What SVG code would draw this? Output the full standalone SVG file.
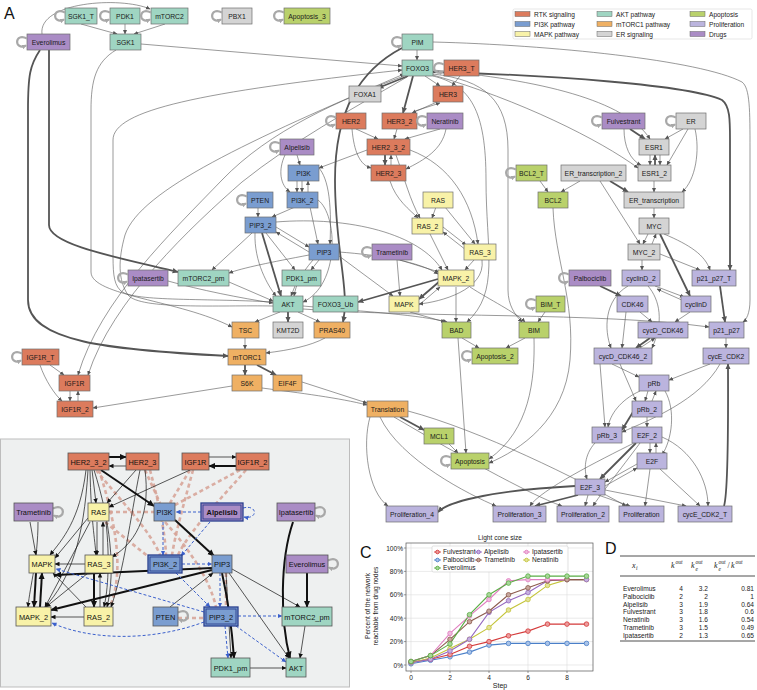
<svg xmlns="http://www.w3.org/2000/svg" xmlns:xlink="http://www.w3.org/1999/xlink" width="757" height="690" viewBox="0 0 757 690">
<style>
.n rect{stroke:#6e6e6e;stroke-width:0.7}
.n text{font-family:"Liberation Sans",Arial,sans-serif;font-size:6.8px;text-anchor:middle;fill:#1a1a1a}
.rtk rect{fill:#dc7b5d}.pi3k rect{fill:#7a9dd0}.mapk rect{fill:#f8f2a8}.akt rect{fill:#9fd5c2}
.mtor rect{fill:#efb063}.er rect{fill:#d4d4d4}.apo rect{fill:#b9d16b}.pro rect{fill:#bbb4de}.drug rect{fill:#aa8cc5}
.e{fill:none;stroke:#555;stroke-width:0.6;marker-end:url(#ah)}
.t{fill:none;stroke:#555;stroke-width:1.8;marker-end:url(#ah2)}
.lp{fill:none;stroke:#a8a8a8;stroke-width:2.2;marker-end:url(#al)}
.lbl{font-family:"Liberation Sans",Arial,sans-serif;fill:#111}
.b rect{stroke:#555;stroke-width:0.8}
.b text{font-family:"Liberation Sans",Arial,sans-serif;font-size:7.4px;text-anchor:middle;fill:#111}
.k{fill:none;stroke:#111;stroke-width:0.7;marker-end:url(#bk)}
.kt{fill:none;stroke:#111;stroke-width:2;marker-end:url(#bk2)}
.pk{fill:none;stroke:#d6a194;stroke-width:2.6;stroke-dasharray:4 3;opacity:0.85}
.bl{fill:none;stroke:#3b60cc;stroke-width:1;stroke-dasharray:3 2;marker-end:url(#bl)}
.tx{font-family:"Liberation Sans",Arial,sans-serif;font-size:6.6px;fill:#222}
.grid{stroke:#dcdcdc;stroke-width:0.6}
</style>
<defs>
<marker id="ah" viewBox="0 0 10 10" refX="9" refY="5" markerWidth="4.5" markerHeight="4.5" markerUnits="userSpaceOnUse" orient="auto"><path d="M0,0.5 L10,5 L0,9.5z" fill="#555"/></marker>
<marker id="ah2" viewBox="0 0 10 10" refX="9" refY="5" markerWidth="6" markerHeight="6" markerUnits="userSpaceOnUse" orient="auto"><path d="M0,0.5 L10,5 L0,9.5z" fill="#555"/></marker>
<marker id="al" viewBox="0 0 10 10" refX="8" refY="5" markerWidth="5" markerHeight="5" markerUnits="userSpaceOnUse" orient="auto"><path d="M0,0.5 L10,5 L0,9.5z" fill="#a8a8a8"/></marker>
<marker id="bk" viewBox="0 0 10 10" refX="9" refY="5" markerWidth="5" markerHeight="5" markerUnits="userSpaceOnUse" orient="auto"><path d="M0,0.5 L10,5 L0,9.5z" fill="#111"/></marker>
<marker id="bk2" viewBox="0 0 10 10" refX="9" refY="5" markerWidth="7" markerHeight="7" markerUnits="userSpaceOnUse" orient="auto"><path d="M0,0.5 L10,5 L0,9.5z" fill="#111"/></marker>
<marker id="bl" viewBox="0 0 10 10" refX="9" refY="5" markerWidth="5" markerHeight="5" markerUnits="userSpaceOnUse" orient="auto"><path d="M0,0.5 L10,5 L0,9.5z" fill="#3b60cc"/></marker>
<path id="lp" class="lp" d="M0,-3.5 C-13,-10 -13,9 -1,3.5"/>
<path id="lpb" fill="none" stroke="#a8a8a8" stroke-width="2.2" marker-end="url(#al)" d="M0,-3.5 C13,-10 13,9 1,3.5"/>
</defs>
<rect width="757" height="690" fill="#fff"/>
<text class="lbl" x="4" y="19" font-size="16">A</text>
<text class="lbl" x="4" y="459" font-size="16">B</text>
<text class="lbl" x="360" y="558" font-size="16">C</text>
<text class="lbl" x="605" y="554" font-size="16">D</text>

<!-- legend -->
<g id="legend">
<rect x="513" y="9" width="239" height="30" fill="#fff" stroke="#dcdcdc" stroke-width="0.7" rx="1.5"/>
<g stroke="#666" stroke-width="0.5">
<rect x="515" y="11.5" width="15" height="5" fill="#dc7b5d"/><rect x="515" y="21.5" width="15" height="5" fill="#7a9dd0"/><rect x="515" y="31.5" width="15" height="5" fill="#f8f2a8"/>
<rect x="597" y="11.5" width="15" height="5" fill="#9fd5c2"/><rect x="597" y="21.5" width="15" height="5" fill="#efb063"/><rect x="597" y="31.5" width="15" height="5" fill="#d4d4d4"/>
<rect x="690" y="11.5" width="15" height="5" fill="#b9d16b"/><rect x="690" y="21.5" width="15" height="5" fill="#bbb4de"/><rect x="690" y="31.5" width="15" height="5" fill="#aa8cc5"/>
</g>
<g class="tx" font-size="7">
<text x="534" y="16.5">RTK signaling</text><text x="534" y="26.5">PI3K pathway</text><text x="534" y="36.5">MAPK pathway</text>
<text x="616" y="16.5">AKT pathway</text><text x="616" y="26.5">mTORC1 pathway</text><text x="616" y="36.5">ER signaling</text>
<text x="709" y="16.5">Apoptosis</text><text x="709" y="26.5">Proliferation</text><text x="709" y="36.5">Drugs</text>
</g>
</g>

<!-- Panel A connectors -->
<g id="edges-A">
<path class="e" d="M81,24 L117,34"/>
<path class="e" d="M125,24 L125,34"/>
<path class="e" d="M165,24 L134,34"/>
<path class="e" d="M42,34 C38,2 120,-4 150,9"/>
<path class="e" d="M141,44 L402,66"/>
<path class="e" d="M116,50 C96,62 91,80 91,110 L91,272 C91,296 180,300 232,327"/>
<path class="t" d="M49,50 L49,225 C49,245 120,258 178,272"/>
<path class="t" d="M40,50 C30,65 28,75 28,110 L28,300 C28,342 110,350 228,356"/>
<path class="e" d="M273,302 C200,298 130,302 120,290 C113,283 113,270 113,250 L113,140 C113,110 200,92 402,70"/>
<path class="e" d="M273,306 C220,305 140,310 128,295 C118,280 118,260 125,235 C140,190 250,140 404,74"/>
<path class="e" d="M404,76 C340,100 270,130 222,180 C172,232 100,300 78,375"/>
<path class="e" d="M407,77 C350,110 292,142 242,182 C192,226 112,300 88,375"/>
<path class="e" d="M417,50 L417,60"/>
<path class="e" d="M433,42 C550,45 700,60 742,82 C750,88 750,110 750,150 L750,300 C750,314 746,320 743,322"/>
<path class="t" d="M433,72 C550,75 690,85 722,100 C730,106 730,120 730,140 L730,270"/>
<path class="t" d="M402,48 C360,70 335,110 335,180 C335,250 350,290 343,322"/>
<path class="t" d="M408,76 L378,88"/>
<path class="e" d="M425,76 L440,86"/>
<path class="t" d="M413,76 L403,113"/>
<path class="e" d="M460,76 L452,86"/>
<path class="e" d="M437,102 L412,113"/>
<path class="e" d="M415,111 L440,103"/>
<path class="e" d="M397,129 L394,139"/>
<path class="e" d="M356,129 L378,139"/>
<path class="e" d="M440,129 L405,139"/>
<path class="e" d="M352,129 C354,152 360,165 371,168"/>
<path class="e" d="M446,129 C442,150 424,160 406,169"/>
<path class="t" d="M385,155 L385,165"/>
<path class="e" d="M391,165 L391,155"/>
<path class="e" d="M367,150 L319,168"/>
<path class="e" d="M396,155 C405,180 410,200 420,218"/>
<path class="e" d="M390,181 C396,200 410,210 418,218"/>
<path class="e" d="M410,150 C450,165 472,200 478,244"/>
<path class="e" d="M433,76 C470,85 486,110 486,180 C486,250 500,292 467,322"/>
<path class="e" d="M433,74 C485,80 508,100 508,150 L508,290 C508,305 515,315 522,322"/>
<path class="e" d="M297,155 L300,165"/>
<path class="e" d="M285,155 C278,170 280,185 290,192"/>
<path class="e" d="M297,181 L297,192"/>
<path class="e" d="M302,181 L302,192"/>
<path class="e" d="M308,192 L308,181"/>
<path class="e" d="M258,207 L258,217"/>
<path class="e" d="M295,207 L272,217"/>
<path class="e" d="M310,207 L318,244"/>
<path class="e" d="M316,165 C328,175 332,200 330,244"/>
<path class="e" d="M276,227 L309,247"/>
<path class="e" d="M309,252 L276,232"/>
<path class="e" d="M266,233 L295,270"/>
<path class="t" d="M262,233 L281,296"/>
<path class="e" d="M255,233 C254,262 268,286 276,296"/>
<path class="e" d="M252,233 L212,270"/>
<path class="e" d="M319,260 L311,270"/>
<path class="e" d="M313,260 C300,275 296,285 294,296"/>
<path class="e" d="M309,255 C272,262 242,268 229,273"/>
<path class="e" d="M295,286 L291,296"/>
<path class="e" d="M229,282 L273,301"/>
<path class="e" d="M339,252 C380,255 420,262 438,274"/>
<path class="e" d="M276,222 C350,216 420,234 442,270"/>
<path class="e" d="M339,256 L393,296"/>
<path class="e" d="M318,200 C338,215 340,285 303,302"/>
<path class="t" d="M288,312 L288,322"/>
<path class="e" d="M280,312 L255,322"/>
<path class="e" d="M298,312 L320,322"/>
<path class="e" d="M303,306 C370,312 420,315 447,322"/>
<path class="e" d="M303,309 C420,318 600,312 709,327"/>
<path class="e" d="M168,281 C200,290 240,298 273,303"/>
<path class="t" d="M438,279 L358,302"/>
<path class="e" d="M245,338 L245,349"/>
<path class="e" d="M325,338 C310,346 290,350 266,353"/>
<path class="t" d="M245,365 L245,375"/>
<path class="t" d="M257,365 L276,375"/>
<path class="e" d="M232,386 L93,408"/>
<path class="e" d="M262,388 C300,393 340,398 367,405"/>
<path class="e" d="M302,382 L367,403"/>
<path class="e" d="M50,365 L64,375"/>
<path class="e" d="M40,365 C45,380 55,395 62,401"/>
<path class="e" d="M70,391 L70,401"/>
<path class="e" d="M78,401 L78,391"/>
<path class="t" d="M400,417 L424,430"/>
<path class="e" d="M449,444 L458,453"/>
<path class="e" d="M370,417 C362,445 368,492 388,506"/>
<path class="e" d="M380,417 C400,460 470,495 496,506"/>
<path class="e" d="M394,417 C450,450 530,495 562,506"/>
<path class="e" d="M408,411 C480,430 580,480 626,506"/>
<path class="e" d="M462,338 L479,348"/>
<path class="e" d="M525,338 L506,348"/>
<path class="e" d="M458,338 L466,453"/>
<path class="e" d="M534,338 C535,380 530,430 489,459"/>
<path class="e" d="M553,208 C555,260 575,300 570,360 C565,420 520,450 489,463"/>
<path class="e" d="M540,181 L548,192"/>
<path class="e" d="M545,312 L538,322"/>
<path class="e" d="M456,287 L456,322"/>
<path class="e" d="M470,287 C490,300 515,312 525,322"/>
<path class="e" d="M410,312 L445,322"/>
<path class="t" d="M440,281 L419,299"/>
<path class="e" d="M419,305 L440,287"/>
<path class="e" d="M400,260 L439,272"/>
<path class="e" d="M397,260 L400,296"/>
<path class="e" d="M474,260 L465,270"/>
<path class="e" d="M482,260 C486,290 440,302 419,304"/>
<path class="e" d="M436,207 L432,218"/>
<path class="e" d="M445,207 L475,244"/>
<path class="e" d="M443,227 L466,245"/>
<path class="e" d="M466,250 L443,232"/>
<path class="e" d="M430,234 L448,270"/>
<path class="t" d="M630,129 L645,139"/>
<path class="e" d="M624,129 C624,146 630,160 641,165"/>
<path class="e" d="M683,129 L665,139"/>
<path class="e" d="M688,129 L667,165"/>
<path class="e" d="M695,129 C700,150 696,180 682,192"/>
<path class="e" d="M433,70 C540,80 625,100 650,139"/>
<path class="e" d="M433,75 C520,100 600,140 638,168"/>
<path class="e" d="M650,155 L650,165"/>
<path class="t" d="M655,165 L655,155"/>
<path class="e" d="M660,155 L660,165"/>
<path class="e" d="M654,181 L654,192"/>
<path class="t" d="M610,181 L628,192"/>
<path class="e" d="M580,181 L561,192"/>
<path class="e" d="M600,181 L640,244"/>
<path class="e" d="M654,207 L654,218"/>
<path class="e" d="M648,234 L643,244"/>
<path class="e" d="M652,244 L656,234"/>
<path class="e" d="M664,234 C690,245 705,255 710,270"/>
<path class="e" d="M660,254 L700,270"/>
<path class="t" d="M660,234 L690,296"/>
<path class="e" d="M642,260 L642,270"/>
<path class="t" d="M600,286 L621,296"/>
<path class="e" d="M655,286 L684,297"/>
<path class="e" d="M684,301 L657,289"/>
<path class="e" d="M640,312 L652,322"/>
<path class="e" d="M690,312 L675,322"/>
<path class="e" d="M628,286 C604,300 604,330 611,348"/>
<path class="e" d="M648,286 C660,300 664,322 652,348"/>
<path class="e" d="M626,312 L622,348"/>
<path class="t" d="M650,338 L636,348"/>
<path class="e" d="M640,348 L655,338"/>
<path class="t" d="M720,286 L725,322"/>
<path class="e" d="M726,338 L726,348"/>
<path class="e" d="M710,364 L669,380"/>
<path class="e" d="M720,364 C700,400 650,420 622,432"/>
<path class="e" d="M612,364 L639,377"/>
<path class="e" d="M620,364 L636,401"/>
<path class="e" d="M600,364 L605,427"/>
<path class="e" d="M648,391 L645,401"/>
<path class="e" d="M652,401 L656,391"/>
<path class="e" d="M640,391 C620,400 610,415 608,427"/>
<path class="e" d="M647,417 L647,427"/>
<path class="t" d="M633,412 L622,430"/>
<path class="e" d="M665,391 C676,410 672,440 662,455"/>
<path class="e" d="M650,443 L650,453"/>
<path class="e" d="M656,453 L656,443"/>
<path class="t" d="M636,443 L600,479"/>
<path class="e" d="M637,464 L605,482"/>
<path class="e" d="M605,486 L637,468"/>
<path class="t" d="M575,486 C500,490 450,500 438,512"/>
<path class="t" d="M578,495 L535,506"/>
<path class="e" d="M588,495 L585,506"/>
<path class="e" d="M598,495 L630,506"/>
<path class="e" d="M605,490 L686,506"/>
<path class="e" d="M634,443 C600,460 540,490 530,506"/>
<path class="e" d="M640,443 C620,470 600,495 593,506"/>
<path class="e" d="M650,469 L645,506"/>
<path class="e" d="M660,469 L700,506"/>
<path class="e" d="M662,437 C692,450 708,480 708,506"/>
<path class="t" d="M724,506 C729,490 728,400 728,364"/>
<path class="e" d="M595,443 C584,455 584,470 587,479"/>
</g>

<!-- Panel A nodes -->
<g id="A-SGK1_T" class="n akt"><rect x="65" y="8" width="32" height="16"/><text x="81" y="18.5">SGK1_T</text></g>
<g id="A-PDK1" class="n akt"><rect x="110" y="8" width="30" height="16"/><text x="125" y="18.5">PDK1</text></g>
<g id="A-mTORC2" class="n akt"><rect x="151" y="8" width="37" height="16"/><text x="169.5" y="18.5">mTORC2</text></g>
<g id="A-PBX1" class="n er"><rect x="222" y="8" width="30" height="16"/><text x="237" y="18.5">PBX1</text></g>
<g id="A-Apoptosis_3" class="n apo"><rect x="284" y="8" width="46" height="16"/><text x="307" y="18.5">Apoptosis_3</text></g>
<g id="A-Everolimus" class="n drug"><rect x="27" y="34" width="43" height="16"/><text x="48.5" y="44.5">Everolimus</text></g>
<g id="A-SGK1" class="n akt"><rect x="110" y="34" width="31" height="16"/><text x="125.5" y="44.5">SGK1</text></g>
<g id="A-PIM" class="n akt"><rect x="402" y="34" width="31" height="16"/><text x="417.5" y="44.5">PIM</text></g>
<g id="A-FOXO3" class="n akt"><rect x="402" y="60" width="31" height="16"/><text x="417.5" y="70.5">FOXO3</text></g>
<g id="A-HER3_T" class="n rtk"><rect x="444" y="60" width="35" height="16"/><text x="461.5" y="70.5">HER3_T</text></g>
<g id="A-FOXA1" class="n er"><rect x="349" y="86" width="32" height="16"/><text x="365" y="96.5">FOXA1</text></g>
<g id="A-HER3" class="n rtk"><rect x="433" y="86" width="30" height="16"/><text x="448" y="96.5">HER3</text></g>
<g id="A-HER2" class="n rtk"><rect x="336" y="113" width="30" height="16"/><text x="351" y="123.5">HER2</text></g>
<g id="A-HER3_2" class="n rtk"><rect x="382" y="113" width="35" height="16"/><text x="399.5" y="123.5">HER3_2</text></g>
<g id="A-Neratinib" class="n drug"><rect x="427" y="113" width="36" height="16"/><text x="445" y="123.5">Neratinib</text></g>
<g id="A-Fulvestrant" class="n drug"><rect x="602" y="113" width="43" height="16"/><text x="623.5" y="123.5">Fulvestrant</text></g>
<g id="A-ER" class="n er"><rect x="676" y="113" width="30" height="16"/><text x="691" y="123.5">ER</text></g>
<g id="A-Alpelisib" class="n drug"><rect x="280" y="139" width="34" height="16"/><text x="297" y="149.5">Alpelisib</text></g>
<g id="A-HER2_3_2" class="n rtk"><rect x="367" y="139" width="43" height="16"/><text x="388.5" y="149.5">HER2_3_2</text></g>
<g id="A-ESR1" class="n er"><rect x="639" y="139" width="30" height="16"/><text x="654" y="149.5">ESR1</text></g>
<g id="A-PI3K" class="n pi3k"><rect x="288" y="165" width="31" height="16"/><text x="303.5" y="175.5">PI3K</text></g>
<g id="A-HER2_3" class="n rtk"><rect x="371" y="165" width="35" height="16"/><text x="388.5" y="175.5">HER2_3</text></g>
<g id="A-BCL2_T" class="n apo"><rect x="516" y="165" width="31" height="16"/><text x="531.5" y="175.5">BCL2_T</text></g>
<g id="A-ER_transcription_2" class="n er"><rect x="561" y="165" width="65" height="16"/><text x="593.5" y="175.5">ER_transcription_2</text></g>
<g id="A-ESR1_2" class="n er"><rect x="638" y="165" width="33" height="16"/><text x="654.5" y="175.5">ESR1_2</text></g>
<g id="A-PTEN" class="n pi3k"><rect x="247" y="192" width="26" height="16"/><text x="260" y="202.5">PTEN</text></g>
<g id="A-PI3K_2" class="n pi3k"><rect x="287" y="192" width="31" height="16"/><text x="302.5" y="202.5">PI3K_2</text></g>
<g id="A-RAS" class="n mapk"><rect x="423" y="192" width="30" height="16"/><text x="438" y="202.5">RAS</text></g>
<g id="A-BCL2" class="n apo"><rect x="538" y="192" width="30" height="16"/><text x="553" y="202.5">BCL2</text></g>
<g id="A-ER_transcription" class="n er"><rect x="624" y="192" width="60" height="16"/><text x="654" y="202.5">ER_transcription</text></g>
<g id="A-PIP3_2" class="n pi3k"><rect x="245" y="217" width="31" height="16"/><text x="260.5" y="227.5">PIP3_2</text></g>
<g id="A-RAS_2" class="n mapk"><rect x="412" y="218" width="31" height="16"/><text x="427.5" y="228.5">RAS_2</text></g>
<g id="A-MYC" class="n er"><rect x="639" y="218" width="30" height="16"/><text x="654" y="228.5">MYC</text></g>
<g id="A-PIP3" class="n pi3k"><rect x="309" y="244" width="30" height="16"/><text x="324" y="254.5">PIP3</text></g>
<g id="A-Trametinib" class="n drug"><rect x="372" y="244" width="40" height="16"/><text x="392" y="254.5">Trametinib</text></g>
<g id="A-RAS_3" class="n mapk"><rect x="464" y="244" width="32" height="16"/><text x="480" y="254.5">RAS_3</text></g>
<g id="A-MYC_2" class="n er"><rect x="628" y="244" width="32" height="16"/><text x="644" y="254.5">MYC_2</text></g>
<g id="A-Ipatasertib" class="n drug"><rect x="128" y="270" width="40" height="16"/><text x="148" y="280.5">Ipatasertib</text></g>
<g id="A-mTORC2_pm" class="n akt"><rect x="178" y="270" width="51" height="16"/><text x="203.5" y="280.5">mTORC2_pm</text></g>
<g id="A-PDK1_pm" class="n akt"><rect x="282" y="270" width="39" height="16"/><text x="301.5" y="280.5">PDK1_pm</text></g>
<g id="A-MAPK_2" class="n mapk"><rect x="438" y="270" width="36" height="16"/><text x="456" y="280.5">MAPK_2</text></g>
<g id="A-Palbociclib" class="n drug"><rect x="569" y="270" width="42" height="16"/><text x="590" y="280.5">Palbociclib</text></g>
<g id="A-cyclinD_2" class="n pro"><rect x="622" y="270" width="38" height="16"/><text x="641" y="280.5">cyclinD_2</text></g>
<g id="A-p21_p27_T" class="n pro"><rect x="692" y="270" width="44" height="16"/><text x="714" y="280.5">p21_p27_T</text></g>
<g id="A-AKT" class="n akt"><rect x="273" y="296" width="30" height="16"/><text x="288" y="306.5">AKT</text></g>
<g id="A-FOXO3_Ub" class="n akt"><rect x="313" y="296" width="45" height="16"/><text x="335.5" y="306.5">FOXO3_Ub</text></g>
<g id="A-MAPK" class="n mapk"><rect x="389" y="296" width="30" height="16"/><text x="404" y="306.5">MAPK</text></g>
<g id="A-BIM_T" class="n apo"><rect x="536" y="296" width="29" height="16"/><text x="550.5" y="306.5">BIM_T</text></g>
<g id="A-CDK46" class="n pro"><rect x="617" y="296" width="31" height="16"/><text x="632.5" y="306.5">CDK46</text></g>
<g id="A-cyclinD" class="n pro"><rect x="681" y="296" width="30" height="16"/><text x="696" y="306.5">cyclinD</text></g>
<g id="A-TSC" class="n mtor"><rect x="232" y="322" width="27" height="16"/><text x="245.5" y="332.5">TSC</text></g>
<g id="A-KMT2D" class="n er"><rect x="273" y="322" width="30" height="16"/><text x="288" y="332.5">KMT2D</text></g>
<g id="A-PRAS40" class="n mtor"><rect x="314" y="322" width="36" height="16"/><text x="332" y="332.5">PRAS40</text></g>
<g id="A-BAD" class="n apo"><rect x="442" y="322" width="29" height="16"/><text x="456.5" y="332.5">BAD</text></g>
<g id="A-BIM" class="n apo"><rect x="519" y="322" width="30" height="16"/><text x="534" y="332.5">BIM</text></g>
<g id="A-cycD_CDK46" class="n pro"><rect x="638" y="322" width="50" height="16"/><text x="663" y="332.5">cycD_CDK46</text></g>
<g id="A-p21_p27" class="n pro"><rect x="709" y="322" width="35" height="16"/><text x="726.5" y="332.5">p21_p27</text></g>
<g id="A-mTORC1" class="n mtor"><rect x="228" y="349" width="38" height="16"/><text x="247" y="359.5">mTORC1</text></g>
<g id="A-IGF1R_T" class="n rtk"><rect x="22" y="349" width="37" height="16"/><text x="40.5" y="359.5">IGF1R_T</text></g>
<g id="A-Apoptosis_2" class="n apo"><rect x="472" y="348" width="46" height="16"/><text x="495" y="358.5">Apoptosis_2</text></g>
<g id="A-cycD_CDK46_2" class="n pro"><rect x="594" y="348" width="58" height="16"/><text x="623" y="358.5">cycD_CDK46_2</text></g>
<g id="A-cycE_CDK2" class="n pro"><rect x="703" y="348" width="46" height="16"/><text x="726" y="358.5">cycE_CDK2</text></g>
<g id="A-IGF1R" class="n rtk"><rect x="59" y="375" width="31" height="16"/><text x="74.5" y="385.5">IGF1R</text></g>
<g id="A-S6K" class="n mtor"><rect x="232" y="375" width="30" height="16"/><text x="247" y="385.5">S6K</text></g>
<g id="A-EIF4F" class="n mtor"><rect x="273" y="375" width="29" height="16"/><text x="287.5" y="385.5">EIF4F</text></g>
<g id="A-pRb" class="n pro"><rect x="639" y="375" width="30" height="16"/><text x="654" y="385.5">pRb</text></g>
<g id="A-IGF1R_2" class="n rtk"><rect x="57" y="401" width="36" height="16"/><text x="75" y="411.5">IGF1R_2</text></g>
<g id="A-Translation" class="n mtor"><rect x="367" y="401" width="41" height="16"/><text x="387.5" y="411.5">Translation</text></g>
<g id="A-pRb_2" class="n pro"><rect x="632" y="401" width="30" height="16"/><text x="647" y="411.5">pRb_2</text></g>
<g id="A-pRb_3" class="n pro"><rect x="592" y="427" width="30" height="16"/><text x="607" y="437.5">pRb_3</text></g>
<g id="A-E2F_2" class="n pro"><rect x="632" y="427" width="30" height="16"/><text x="647" y="437.5">E2F_2</text></g>
<g id="A-MCL1" class="n apo"><rect x="424" y="428" width="30" height="16"/><text x="439" y="438.5">MCL1</text></g>
<g id="A-Apoptosis" class="n apo"><rect x="451" y="453" width="38" height="16"/><text x="470" y="463.5">Apoptosis</text></g>
<g id="A-E2F" class="n pro"><rect x="637" y="453" width="30" height="16"/><text x="652" y="463.5">E2F</text></g>
<g id="A-E2F_3" class="n pro"><rect x="575" y="479" width="30" height="16"/><text x="590" y="489.5">E2F_3</text></g>
<g id="A-Proliferation_4" class="n pro"><rect x="386" y="506" width="52" height="16"/><text x="412" y="516.5">Proliferation_4</text></g>
<g id="A-Proliferation_3" class="n pro"><rect x="493" y="506" width="53" height="16"/><text x="519.5" y="516.5">Proliferation_3</text></g>
<g id="A-Proliferation_2" class="n pro"><rect x="557" y="506" width="52" height="16"/><text x="583" y="516.5">Proliferation_2</text></g>
<g id="A-Proliferation" class="n pro"><rect x="619" y="506" width="45" height="16"/><text x="641.5" y="516.5">Proliferation</text></g>
<g id="A-cycE_CDK2_T" class="n pro"><rect x="678" y="506" width="54" height="16"/><text x="705" y="516.5">cycE_CDK2_T</text></g>

<!-- self loops panel A -->
<g id="loops-A">
<use href="#lp" x="65" y="16"/><use href="#lp" x="110" y="16"/><use href="#lp" x="151" y="16"/><use href="#lp" x="222" y="16"/>
<use href="#lp" x="284" y="16"/><use href="#lp" x="27" y="42"/><use href="#lp" x="402" y="42"/><use href="#lp" x="444" y="68"/>
<use href="#lp" x="336" y="121"/><use href="#lp" x="427" y="121"/><use href="#lp" x="602" y="121"/><use href="#lp" x="676" y="121"/>
<use href="#lp" x="280" y="147"/><use href="#lp" x="516" y="173"/><use href="#lp" x="247" y="200"/><use href="#lp" x="372" y="252"/>
<use href="#lp" x="128" y="278"/><use href="#lp" x="569" y="278"/><use href="#lp" x="536" y="304"/><use href="#lp" x="22" y="357"/>
<use href="#lp" x="472" y="356"/><use href="#lp" x="451" y="461"/>
</g>

<!-- Panel B -->
<rect x="0.5" y="439" width="349" height="248" fill="#eef0f0" stroke="#bdbdbd" stroke-width="1"/>
<g id="edges-B">
<path class="pk" d="M96,470 C120,500 150,530 160,555"/>
<path class="pk" d="M145,470 L160,503"/>
<path class="pk" d="M150,470 C158,500 165,530 166,555"/>
<path class="pk" d="M190,470 L170,503"/>
<path class="pk" d="M193,470 C185,500 176,530 172,555"/>
<path class="pk" d="M240,470 L175,505"/>
<path class="pk" d="M246,470 C220,500 190,530 178,555"/>
<path class="pk" d="M109,512 L154,512"/>
<path class="pk" d="M105,522 L150,558"/>
<path class="pk" d="M99,470 C115,520 125,570 110,607"/>
<path class="pk" d="M165,522 C190,550 210,580 216,607"/>
<path class="pk" d="M226,573 L226,607"/>
<path class="pk" d="M178,618 L204,618"/>
<path class="kt" d="M109,457 L126,457"/>
<path class="k" d="M126,466 L109,466"/>
<path class="k" d="M209,457 L236,457"/>
<path class="kt" d="M236,466 L209,466"/>
<path class="kt" d="M101,470 L154,506"/>
<path class="k" d="M92,470 L96,503"/>
<path class="k" d="M136,470 L107,503"/>
<path class="k" d="M190,470 L109,507"/>
<path class="k" d="M86,470 C80,520 62,540 50,555"/>
<path class="k" d="M88,470 C84,540 70,580 45,607"/>
<path class="k" d="M90,470 C91,520 95,540 96,555"/>
<path class="k" d="M94,470 C110,520 116,570 107,607"/>
<path class="k" d="M140,470 C130,520 124,570 111,607"/>
<path class="k" d="M145,470 C150,510 140,540 112,557"/>
<path class="k" d="M97,522 L97,555"/>
<path class="k" d="M103,555 L103,522"/>
<path class="k" d="M106,522 C110,560 108,590 104,607"/>
<path class="k" d="M88,518 L55,558"/>
<path class="k" d="M90,522 L45,607"/>
<path class="k" d="M85,564 L55,564"/>
<path class="kt" d="M94,573 L94,607"/>
<path class="k" d="M100,607 L100,573"/>
<path class="k" d="M88,573 L46,607"/>
<path class="k" d="M84,617 L51,617"/>
<path class="k" d="M86,607 L53,573"/>
<path class="kt" d="M36,573 L34,607"/>
<path class="kt" d="M40,607 L42,573"/>
<path class="k" d="M30,522 L36,555"/>
<path class="k" d="M38,522 C38,560 30,585 28,607"/>
<path class="kt" d="M175,520 L214,556"/>
<path class="kt" d="M212,568 L55,575"/>
<path class="kt" d="M212,570 L51,610"/>
<path class="k" d="M170,607 L213,573"/>
<path class="kt" d="M222,573 C228,600 232,630 234,658"/>
<path class="k" d="M226,573 L231,658"/>
<path class="k" d="M229,573 L289,658"/>
<path class="k" d="M232,569 L300,607"/>
<path class="kt" d="M307,573 L307,607"/>
<path class="kt" d="M293,522 C280,560 280,620 290,658"/>
<path class="k" d="M305,626 L300,658"/>
<path class="k" d="M250,668 L286,668"/>
<path class="bl" d="M201,512 L176,512"/>
<path fill="none" stroke="#3b60cc" stroke-width="1" stroke-dasharray="3 2" marker-end="url(#bl)" d="M243,508 C258,504 258,520 244,517"/>
<path class="bl" d="M210,522 L181,556"/>
<path class="bl" d="M163,522 L163,555"/>
<path class="bl" d="M182,564 L212,564"/>
<path class="bl" d="M176,573 L210,607"/>
<path class="bl" d="M204,612 L56,569"/>
<path class="bl" d="M204,622 C150,642 90,640 52,623"/>
<path class="bl" d="M220,573 L220,607"/>
<path class="bl" d="M238,616 L282,616"/>
<path class="bl" d="M225,626 L228,658"/>
<path class="bl" d="M236,626 L286,662"/>
</g>
<g id="loops-B">
<use href="#lpb" x="53" y="512"/><use href="#lpb" x="315" y="512"/><use href="#lpb" x="328" y="564"/><use href="#lpb" x="178" y="616"/>
</g>
<g id="B-HER2_3_2" class="b rtk"><rect x="68" y="453" width="41" height="17" fill="#dc7b5d"/><text x="88.5" y="464.5">HER2_3_2</text></g>
<g id="B-HER2_3" class="b rtk"><rect x="126" y="453" width="33" height="17" fill="#dc7b5d"/><text x="142.5" y="464.5">HER2_3</text></g>
<g id="B-IGF1R" class="b rtk"><rect x="182" y="453" width="27" height="17" fill="#dc7b5d"/><text x="195.5" y="464.5">IGF1R</text></g>
<g id="B-IGF1R_2" class="b rtk"><rect x="236" y="453" width="33" height="17" fill="#dc7b5d"/><text x="252.5" y="464.5">IGF1R_2</text></g>
<g id="B-Trametinib" class="b"><rect x="14" y="503" width="39" height="18" fill="#aa8cc5"/><text x="33.5" y="515">Trametinib</text></g>
<g id="B-RAS" class="b"><rect x="88" y="503" width="21" height="18" fill="#f8f2a8"/><text x="98.5" y="515">RAS</text></g>
<g id="B-PI3K" class="b"><rect x="154" y="503" width="21" height="18" fill="#7a9dd0"/><text x="164.5" y="515">PI3K</text></g>
<g id="B-Alpelisib" class="b"><rect x="201" y="503" width="42" height="18" fill="#aa8cc5" style="stroke:#2a3f8f;stroke-width:1.3"/><rect x="203" y="505" width="38" height="14" fill="none" style="stroke:#2a3f8f;stroke-width:0.9"/><text x="222" y="515" font-weight="bold">Alpelisib</text></g>
<g id="B-Ipatasertib" class="b"><rect x="277" y="503" width="38" height="18" fill="#aa8cc5"/><text x="296" y="515">Ipatasertib</text></g>
<g id="B-MAPK" class="b"><rect x="29" y="555" width="26" height="18" fill="#f8f2a8"/><text x="42" y="567">MAPK</text></g>
<g id="B-RAS_3" class="b"><rect x="85" y="555" width="28" height="18" fill="#f8f2a8"/><text x="99" y="567">RAS_3</text></g>
<g id="B-PI3K_2" class="b"><rect x="148" y="555" width="34" height="18" fill="#7a9dd0" style="stroke:#2a3f8f;stroke-width:1.3"/><rect x="150" y="557" width="30" height="14" fill="none" style="stroke:#2a3f8f;stroke-width:0.9"/><text x="165" y="567">PI3K_2</text></g>
<g id="B-PIP3" class="b"><rect x="212" y="555" width="20" height="18" fill="#7a9dd0"/><text x="222" y="567">PIP3</text></g>
<g id="B-Everolimus" class="b"><rect x="286" y="555" width="42" height="18" fill="#aa8cc5"/><text x="307" y="567">Everolimus</text></g>
<g id="B-MAPK_2" class="b"><rect x="16" y="607" width="35" height="19" fill="#f8f2a8"/><text x="33.5" y="619.5">MAPK_2</text></g>
<g id="B-RAS_2" class="b"><rect x="84" y="607" width="29" height="19" fill="#f8f2a8"/><text x="98.5" y="619.5">RAS_2</text></g>
<g id="B-PTEN" class="b"><rect x="153" y="607" width="25" height="19" fill="#7a9dd0"/><text x="165.5" y="619.5">PTEN</text></g>
<g id="B-PIP3_2" class="b"><rect x="204" y="607" width="34" height="19" fill="#7a9dd0" style="stroke:#2a3f8f;stroke-width:1.3"/><rect x="206" y="609" width="30" height="15" fill="none" style="stroke:#2a3f8f;stroke-width:0.9"/><text x="221" y="619.5">PIP3_2</text></g>
<g id="B-mTORC2_pm" class="b"><rect x="282" y="607" width="50" height="19" fill="#9fd5c2"/><text x="307" y="619.5">mTORC2_pm</text></g>
<g id="B-PDK1_pm" class="b"><rect x="211" y="658" width="39" height="19" fill="#9fd5c2"/><text x="230.5" y="670.5">PDK1_pm</text></g>
<g id="B-AKT" class="b"><rect x="286" y="658" width="20" height="19" fill="#9fd5c2"/><text x="296" y="670.5">AKT</text></g>

<!-- Panel C -->
<g id="panel-C">
<text class="tx" x="500" y="540" font-size="8" text-anchor="middle">Light cone size</text>
<g class="grid">
<line x1="406" y1="665" x2="593" y2="665"/><line x1="406" y1="641.6" x2="593" y2="641.6"/><line x1="406" y1="618.2" x2="593" y2="618.2"/>
<line x1="406" y1="594.8" x2="593" y2="594.8"/><line x1="406" y1="571.4" x2="593" y2="571.4"/><line x1="406" y1="548" x2="593" y2="548"/>
<line x1="411" y1="543" x2="411" y2="671"/><line x1="450" y1="543" x2="450" y2="671"/><line x1="489" y1="543" x2="489" y2="671"/>
<line x1="528" y1="543" x2="528" y2="671"/><line x1="567" y1="543" x2="567" y2="671"/>
</g>
<rect x="406" y="543" width="187" height="128" fill="none" stroke="#555" stroke-width="0.7"/>
<g class="tx" font-size="6.5" text-anchor="end">
<text x="403" y="667.5">0%</text><text x="403" y="644">20%</text><text x="403" y="620.5">40%</text><text x="403" y="597">60%</text><text x="403" y="574">80%</text><text x="403" y="550.5">100%</text>
</g>
<g stroke="#555" stroke-width="0.6">
<line x1="404" y1="665" x2="406" y2="665"/><line x1="404" y1="641.6" x2="406" y2="641.6"/><line x1="404" y1="618.2" x2="406" y2="618.2"/><line x1="404" y1="594.8" x2="406" y2="594.8"/><line x1="404" y1="571.4" x2="406" y2="571.4"/><line x1="404" y1="548" x2="406" y2="548"/>
<line x1="411" y1="671" x2="411" y2="673"/><line x1="450" y1="671" x2="450" y2="673"/><line x1="489" y1="671" x2="489" y2="673"/><line x1="528" y1="671" x2="528" y2="673"/><line x1="567" y1="671" x2="567" y2="673"/>
</g>
<g class="tx" font-size="6.5" text-anchor="middle">
<text x="411" y="680">0</text><text x="450" y="680">2</text><text x="489" y="680">4</text><text x="528" y="680">6</text><text x="567" y="680">8</text>
<text x="500" y="688" font-size="7">Step</text>
</g>
<g class="tx" font-size="6.5" text-anchor="middle">
<text transform="translate(370,606) rotate(-90)">Percent of the network</text>
<text transform="translate(377.5,606) rotate(-90)">reachable from drug nodes</text>
</g>
<g fill="none" stroke-width="1.1">
<polyline stroke="#4a7fc8" points="411,663.8 430.5,660.3 450,656.8 469.5,652.1 489,645.1 508.5,643.4 528,643.4 547.5,643.4 567,643.4 586.5,643.4"/>
<polyline stroke="#d43a3a" points="411,662.1 430.5,659.2 450,654.5 469.5,646.3 489,641.6 508.5,635.8 528,631.1 547.5,624.1 567,624.1 586.5,624.1"/>
<polyline stroke="#c4c43a" points="411,662.7 430.5,658 450,648.6 469.5,639.3 489,627.6 508.5,610 528,599.5 547.5,585.4 567,579.6 586.5,579.6"/>
<polyline stroke="#9468c0" points="411,662.7 430.5,659.2 450,651 469.5,639.3 489,612.4 508.5,600.7 528,592.5 547.5,580.8 567,579.6 586.5,579.6"/>
<polyline stroke="#8c5a4c" points="411,661.5 430.5,655.6 450,639.3 469.5,621.7 489,611.2 508.5,594.8 528,587.8 547.5,580.8 567,579.6 586.5,579.6"/>
<polyline stroke="#e07fc0" points="411,661.5 430.5,655.6 450,633.4 469.5,615.9 489,599.5 508.5,580.8 528,579.6 547.5,579.6 567,579.6"/>
<polyline stroke="#5aad45" points="411,661.5 430.5,655.6 450,643.9 469.5,614.7 489,594.8 508.5,583.1 528,576.1 547.5,576.1 567,576.1 586.5,576.1"/>
</g>
<g stroke-width="0.8">
<g fill="#a9c3e8" stroke="#4a7fc8"><circle cx="411" cy="663.8" r="2.3"/><circle cx="430.5" cy="660.3" r="2.3"/><circle cx="450" cy="656.8" r="2.3"/><circle cx="469.5" cy="652.1" r="2.3"/><circle cx="489" cy="645.1" r="2.3"/><circle cx="508.5" cy="643.4" r="2.3"/><circle cx="528" cy="643.4" r="2.3"/><circle cx="547.5" cy="643.4" r="2.3"/><circle cx="567" cy="643.4" r="2.3"/><circle cx="586.5" cy="643.4" r="2.3"/></g>
<g fill="#ec9c9c" stroke="#d43a3a"><circle cx="411" cy="662.1" r="2.3"/><circle cx="430.5" cy="659.2" r="2.3"/><circle cx="450" cy="654.5" r="2.3"/><circle cx="469.5" cy="646.3" r="2.3"/><circle cx="489" cy="641.6" r="2.3"/><circle cx="508.5" cy="635.8" r="2.3"/><circle cx="528" cy="631.1" r="2.3"/><circle cx="547.5" cy="624.1" r="2.3"/><circle cx="567" cy="624.1" r="2.3"/><circle cx="586.5" cy="624.1" r="2.3"/></g>
<g fill="#e2e29a" stroke="#c4c43a"><circle cx="411" cy="662.7" r="2.3"/><circle cx="430.5" cy="658" r="2.3"/><circle cx="450" cy="648.6" r="2.3"/><circle cx="469.5" cy="639.3" r="2.3"/><circle cx="489" cy="627.6" r="2.3"/><circle cx="508.5" cy="610" r="2.3"/><circle cx="528" cy="599.5" r="2.3"/><circle cx="547.5" cy="585.4" r="2.3"/><circle cx="567" cy="579.6" r="2.3"/><circle cx="586.5" cy="579.6" r="2.3"/></g>
<g fill="#c6b0df" stroke="#9468c0"><circle cx="411" cy="662.7" r="2.3"/><circle cx="430.5" cy="659.2" r="2.3"/><circle cx="450" cy="651" r="2.3"/><circle cx="469.5" cy="639.3" r="2.3"/><circle cx="489" cy="612.4" r="2.3"/><circle cx="508.5" cy="600.7" r="2.3"/><circle cx="528" cy="592.5" r="2.3"/><circle cx="547.5" cy="580.8" r="2.3"/><circle cx="567" cy="579.6" r="2.3"/><circle cx="586.5" cy="579.6" r="2.3"/></g>
<g fill="#c6a69c" stroke="#8c5a4c"><circle cx="411" cy="661.5" r="2.3"/><circle cx="430.5" cy="655.6" r="2.3"/><circle cx="450" cy="639.3" r="2.3"/><circle cx="469.5" cy="621.7" r="2.3"/><circle cx="489" cy="611.2" r="2.3"/><circle cx="508.5" cy="594.8" r="2.3"/><circle cx="528" cy="587.8" r="2.3"/><circle cx="547.5" cy="580.8" r="2.3"/><circle cx="567" cy="579.6" r="2.3"/></g>
<g fill="#f0b8de" stroke="#e07fc0"><circle cx="450" cy="633.4" r="2.3"/><circle cx="469.5" cy="615.9" r="2.3"/><circle cx="489" cy="599.5" r="2.3"/><circle cx="508.5" cy="580.8" r="2.3"/><circle cx="528" cy="579.6" r="2.3"/><circle cx="547.5" cy="579.6" r="2.3"/></g>
<g fill="#a8d89a" stroke="#5aad45"><circle cx="411" cy="661.5" r="2.3"/><circle cx="430.5" cy="655.6" r="2.3"/><circle cx="450" cy="643.9" r="2.3"/><circle cx="469.5" cy="614.7" r="2.3"/><circle cx="489" cy="594.8" r="2.3"/><circle cx="508.5" cy="583.1" r="2.3"/><circle cx="528" cy="576.1" r="2.3"/><circle cx="547.5" cy="576.1" r="2.3"/><circle cx="567" cy="576.1" r="2.3"/><circle cx="586.5" cy="576.1" r="2.3"/></g>
</g>
<rect x="432" y="546" width="136" height="26" fill="#fff" fill-opacity="0.9" stroke="#ccc" stroke-width="0.6" rx="1.5"/>
<g stroke-width="0.9">
<line x1="434" y1="552" x2="441" y2="552" stroke="#d43a3a"/><circle cx="437.5" cy="552" r="1.8" fill="#ec9c9c" stroke="#d43a3a"/>
<line x1="434" y1="560" x2="441" y2="560" stroke="#4a7fc8"/><circle cx="437.5" cy="560" r="1.8" fill="#a9c3e8" stroke="#4a7fc8"/>
<line x1="434" y1="568" x2="441" y2="568" stroke="#5aad45"/><circle cx="437.5" cy="568" r="1.8" fill="#a8d89a" stroke="#5aad45"/>
<line x1="475" y1="552" x2="482" y2="552" stroke="#9468c0"/><circle cx="478.5" cy="552" r="1.8" fill="#c6b0df" stroke="#9468c0"/>
<line x1="475" y1="560" x2="482" y2="560" stroke="#8c5a4c"/><circle cx="478.5" cy="560" r="1.8" fill="#c6a69c" stroke="#8c5a4c"/>
<line x1="523" y1="552" x2="530" y2="552" stroke="#e07fc0"/><circle cx="526.5" cy="552" r="1.8" fill="#f0b8de" stroke="#e07fc0"/>
<line x1="523" y1="560" x2="530" y2="560" stroke="#c4c43a"/><circle cx="526.5" cy="560" r="1.8" fill="#e2e29a" stroke="#c4c43a"/>
</g>
<g class="tx" font-size="5.6">
<text x="443" y="554">Fulvestrant</text><text x="443" y="562">Palbociclib</text><text x="443" y="570">Everolimus</text>
<text x="484" y="554">Alpelisib</text><text x="484" y="562">Trametinib</text>
<text x="532" y="554">Ipatasertib</text><text x="532" y="562">Neratinib</text>
</g>
</g>

<!-- Panel D -->
<g id="panel-D">
<g stroke="#222" stroke-width="0.8"><line x1="620" y1="556" x2="755" y2="556"/><line x1="620" y1="576" x2="755" y2="576"/><line x1="620" y1="641" x2="755" y2="641"/></g>
<g font-family="Liberation Serif,serif" font-style="italic" fill="#222">
<text x="632" y="568" font-size="8">x</text><text x="636" y="570" font-size="5.5">i</text>
<text x="671" y="568" font-size="8">k</text><text x="675.5" y="564" font-size="5.5">out</text>
<text x="691" y="568" font-size="8">k</text><text x="695.5" y="570.5" font-size="5.5">e</text><text x="695.5" y="564" font-size="5.5">out</text>
<text x="714" y="568" font-size="8">k</text><text x="718.5" y="570.5" font-size="5.5">e</text><text x="718.5" y="564" font-size="5.5">out</text><text x="727.5" y="568" font-size="8" font-style="normal">/</text><text x="731" y="568" font-size="8">k</text><text x="735.5" y="564" font-size="5.5">out</text>
</g>
<g class="tx" font-size="7">
<text x="623" y="591">Everolimus</text><text x="623" y="598.5">Palbociclib</text><text x="623" y="606.5">Alpelisib</text><text x="623" y="614">Fulvestrant</text><text x="623" y="622">Neratinib</text><text x="623" y="630">Trametinib</text><text x="623" y="637.5">Ipatasertib</text>
</g>
<g class="tx" font-size="7" text-anchor="end">
<text x="683" y="591">4</text><text x="683" y="598.5">2</text><text x="683" y="606.5">3</text><text x="683" y="614">3</text><text x="683" y="622">3</text><text x="683" y="630">3</text><text x="683" y="637.5">2</text>
<text x="708" y="591">3.2</text><text x="708" y="598.5">2</text><text x="708" y="606.5">1.9</text><text x="708" y="614">1.8</text><text x="708" y="622">1.6</text><text x="708" y="630">1.5</text><text x="708" y="637.5">1.3</text>
<text x="754" y="591">0.81</text><text x="754" y="598.5">1</text><text x="754" y="606.5">0.64</text><text x="754" y="614">0.6</text><text x="754" y="622">0.54</text><text x="754" y="630">0.49</text><text x="754" y="637.5">0.65</text>
</g>
</g>
</svg>
